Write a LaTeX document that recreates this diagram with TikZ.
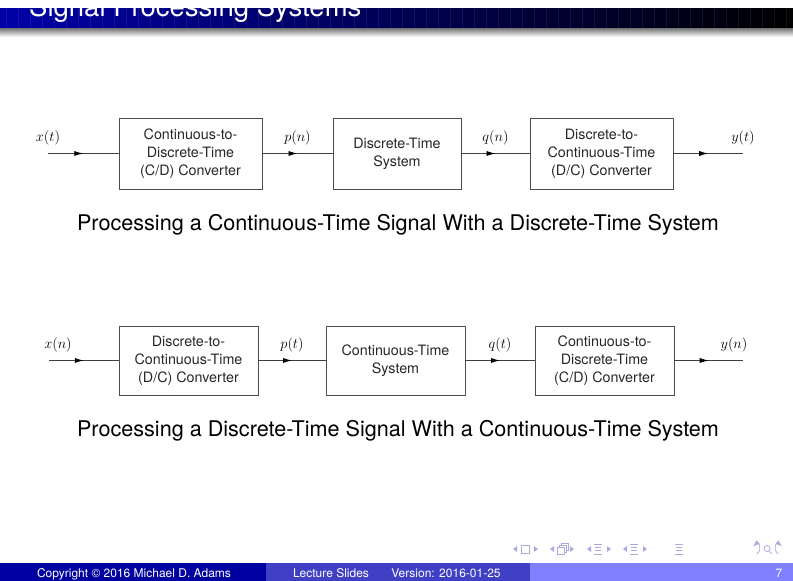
\documentclass[tikz,border=0pt]{standalone}
\usepackage{fontspec}
\setmainfont{TeX Gyre Heros}
\usetikzlibrary{arrows.meta,decorations.markings}
\definecolor{bardark}{RGB}{0,0,168}
\definecolor{ftdark}{RGB}{0,0,160}
\definecolor{ftmid}{RGB}{64,64,196}
\definecolor{ftlight}{RGB}{128,128,255}
\definecolor{navc}{RGB}{170,170,225}
\tikzset{
  blk/.style={draw=black!70, line width=0.8pt, minimum width=143pt, minimum height=71pt,
    inner sep=0pt, align=center, text=black!85, font=\fontsize{14.3}{18}\selectfont},
  blkb/.style={blk, minimum width=139pt, minimum height=69pt},
  sig/.style={draw=black!75, line width=0.8pt, postaction={decorate},
    decoration={markings, mark=at position 0.5 with {\arrow[black]{Latex[length=9pt,width=5pt]}}}},
  lbl/.style={above=8pt, inner sep=0pt, font=\fontsize{15.5}{15.5}\selectfont},
  capt/.style={anchor=base, inner sep=0pt, font=\fontsize{21.6}{26}\selectfont},
  foot/.style={anchor=base, inner sep=0pt, text=white, font=\fontsize{12}{12}\selectfont}
}
\begin{document}
\begin{tikzpicture}[x=1pt,y=-1pt,>=Latex]
    \useasboundingbox (0,0) rectangle (793,581);
    % title bar
    \shade[left color=bardark, right color=black] (0,8) rectangle (793,28);
    \foreach \i in {0,...,65}{
    \draw[white, opacity=0.08, line width=1pt] (6+12*\i,8) -- (6+12*\i,28);
    }
    \shade[top color=black!55, bottom color=white] (0,28) rectangle (793,37);
    \node[anchor=base west, inner sep=0pt, text=white, font=\fontsize{27.5}{30}\selectfont] (title) at (29,16) {Signal Processing Systems};

    % continuous-time signal, discrete-time system
    \node[blk] (cd1) at (190.5,153.5) {Continuous-to-\\Discrete-Time\\(C/D) Converter};
    \node[blk, minimum width=128pt] (dts) at (397,153.5) {Discrete-Time\\System};
    \node[blk] (dc1) at (601.5,153.5) {Discrete-to-\\Continuous-Time\\(D/C) Converter};
    \coordinate (xin1) at (48,153.5);
    \coordinate (yout1) at (743,153.5);
    \draw[sig] (xin1) -- node[lbl, pos=0]{$x(t)$} (cd1);
    \draw[sig] (cd1) -- node[lbl]{$p(n)$} (dts);
    \draw[sig] (dts) -- node[lbl]{$q(n)$} (dc1);
    \draw[sig] (dc1) -- node[lbl, pos=1]{$y(t)$} (yout1);
    \node[capt] (cap1) at (398,230) {Processing a Continuous-Time Signal With a Discrete-Time System};

    % discrete-time signal, continuous-time system
    \node[blkb] (dc2) at (188.5,360.5) {Discrete-to-\\Continuous-Time\\(D/C) Converter};
    \node[blkb] (cts) at (395.5,360.5) {Continuous-Time\\System};
    \node[blkb] (cd2) at (604.5,360.5) {Continuous-to-\\Discrete-Time\\(C/D) Converter};
    \coordinate (xin2) at (49,360.5);
    \coordinate (yout2) at (743,360.5);
    \draw[sig] (xin2) -- node[lbl, pos=0, xshift=9pt]{$x(n)$} (dc2);
    \draw[sig] (dc2) -- node[lbl]{$p(t)$} (cts);
    \draw[sig] (cts) -- node[lbl]{$q(t)$} (cd2);
    \draw[sig] (cd2) -- node[lbl, pos=1, xshift=-9pt]{$y(n)$} (yout2);
    \node[capt] (cap2) at (398,436) {Processing a Discrete-Time Signal With a Continuous-Time System};

    % navigation symbols
    \foreach \x in {513,550,587,623}{
    \fill[navc] (\x,549) -- ++(4,-3) -- ++(0,6) -- cycle;
    }
    \foreach \x in {538,574,611,647}{
    \fill[navc] (\x,549) -- ++(-4,-3) -- ++(0,6) -- cycle;
    }
    \draw[navc, line width=0.8pt] (521.5,545) rectangle (529.5,553);
    \draw[navc, line width=0.8pt] (557.5,547.5) rectangle (564.5,554) (559.5,547.5) -- (559.5,545.5) -- (566.5,545.5) -- (566.5,552) -- (564.5,552) (561.5,545.5) -- (561.5,543.5) -- (568.5,543.5) -- (568.5,550) -- (566.5,550);
    \foreach \x in {598,634,679}{
    \draw[navc, line width=0.7pt] (\x-4,544.5) -- (\x+4,544.5) (\x-3,547.5) -- (\x+3,547.5) (\x-3,550.5) -- (\x+3,550.5) (\x-4,554) -- (\x+4,554);
    }
    \draw[navc, line width=0.8pt, <-] (753,546.5) .. controls (758,542) and (763,548) .. (757,554);
    \draw[navc, line width=0.8pt] (767,548.5) circle (3) (769.2,550.7) -- (771.5,554);
    \draw[navc, line width=0.8pt, <-] (782,546.5) .. controls (777,542) and (772,548) .. (778,554);

    % footer
    \fill[ftdark] (0,563) rectangle (266,581);
    \fill[ftmid] (266,563) rectangle (530,581);
    \fill[ftlight] (530,563) rectangle (793,581);
    \node[foot] (copy) at (134,577) {Copyright © 2016 Michael D. Adams};
    \node[foot] (lect) at (331,577) {Lecture Slides};
    \node[foot] (vers) at (446,577) {Version: 2016-01-25};
    \node[foot] (page) at (779,577) {7};
\end{tikzpicture}
\end{document}
